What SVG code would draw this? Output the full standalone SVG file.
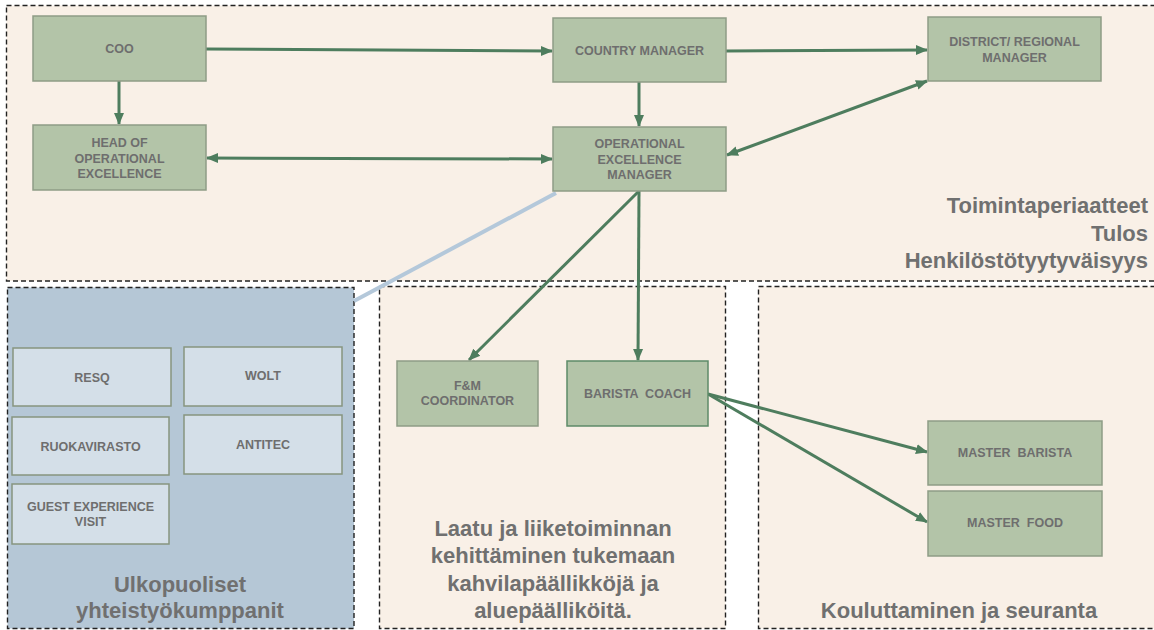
<svg xmlns="http://www.w3.org/2000/svg" width="1154" height="630" viewBox="0 0 1154 630">
<style>
.zone{stroke:#222;stroke-width:1.4;stroke-dasharray:5 3}
.beige{fill:#F9F0E7}
.blue{fill:#B5C7D6}
.g{fill:#B3C4A8;stroke:#8E9C86;stroke-width:1.5}
.gb{fill:#B3C4A8;stroke:#5E8A68;stroke-width:1.5}
.p{fill:#D4DFE8;stroke:#87957F;stroke-width:1.5}
.t{font-family:"Liberation Sans",Arial,sans-serif;font-weight:bold;font-size:12.5px;fill:#6E6E6E;text-anchor:middle}
.big{font-family:"Liberation Sans",Arial,sans-serif;font-weight:bold;font-size:22px;fill:#707070}
.c{stroke:#4E7D5E;stroke-width:3;fill:none}
</style>
<defs>
<marker id="ah" markerUnits="userSpaceOnUse" markerWidth="12" markerHeight="12" refX="11" refY="6" orient="auto-start-reverse">
<path d="M0,1 L12,6 L0,11 Z" fill="#4E7D5E"/>
</marker>
</defs>
<g id="zones">
<rect class="zone beige" x="6.5" y="5.5" width="1160" height="275.5"/>
<rect class="zone blue" x="7.5" y="287.5" width="346.5" height="341"/>
<rect class="zone beige" x="379.5" y="286.5" width="346" height="342"/>
<rect class="zone beige" x="758.5" y="286.5" width="410" height="342"/>
</g>
<g id="zone-labels">
<text class="big" text-anchor="end" x="1148" y="213">Toimintaperiaatteet</text>
<text class="big" text-anchor="end" x="1148" y="241">Tulos</text>
<text class="big" text-anchor="end" x="1148" y="268">Henkilöstötyytyväisyys</text>
<text class="big" text-anchor="middle" x="180" y="592">Ulkopuoliset</text>
<text class="big" text-anchor="middle" x="180" y="618">yhteistyökumppanit</text>
<text class="big" text-anchor="middle" x="553" y="536">Laatu ja liiketoiminnan</text>
<text class="big" text-anchor="middle" x="553" y="563">kehittäminen tukemaan</text>
<text class="big" text-anchor="middle" x="553" y="591">kahvilapäällikköjä ja</text>
<text class="big" text-anchor="middle" x="553" y="618">aluepäälliköitä.</text>
<text class="big" text-anchor="middle" x="959" y="618">Kouluttaminen ja seuranta</text>
</g>
<g id="connectors">
<line x1="556" y1="193" x2="354" y2="301" stroke="#B4C8DA" stroke-width="4"/>
<line class="c" x1="206" y1="49" x2="552" y2="51" marker-end="url(#ah)"/>
<line class="c" x1="119" y1="81" x2="119" y2="124" marker-end="url(#ah)"/>
<line class="c" x1="207" y1="158" x2="552" y2="159" marker-start="url(#ah)" marker-end="url(#ah)"/>
<line class="c" x1="726" y1="51" x2="927" y2="50" marker-end="url(#ah)"/>
<line class="c" x1="639" y1="82" x2="639" y2="126" marker-end="url(#ah)"/>
<line class="c" x1="727" y1="155" x2="927" y2="81" marker-start="url(#ah)" marker-end="url(#ah)"/>
<line class="c" x1="639" y1="191" x2="469" y2="360" marker-end="url(#ah)"/>
<line class="c" x1="639" y1="191" x2="638" y2="360" marker-end="url(#ah)"/>
<line class="c" x1="708" y1="394" x2="927" y2="452" marker-end="url(#ah)"/>
<line class="c" x1="708" y1="394" x2="927" y2="522" marker-end="url(#ah)"/>
</g>
<g id="coo"><rect class="g" x="33" y="16" width="173" height="65"/><text class="t" x="119.5" y="53">COO</text></g>
<g id="head-oe"><rect class="g" x="33" y="125" width="173" height="65"/><text class="t" x="119.5" y="147">HEAD OF</text><text class="t" x="119.5" y="162.5">OPERATIONAL</text><text class="t" x="119.5" y="178">EXCELLENCE</text></g>
<g id="country-manager"><rect class="g" x="553" y="18" width="173" height="64"/><text class="t" x="639.5" y="55">COUNTRY MANAGER</text></g>
<g id="oe-manager"><rect class="g" x="553" y="127" width="173" height="64"/><text class="t" x="639.5" y="148">OPERATIONAL</text><text class="t" x="639.5" y="163.5">EXCELLENCE</text><text class="t" x="639.5" y="179">MANAGER</text></g>
<g id="district-manager"><rect class="g" x="928" y="17" width="173" height="64"/><text class="t" x="1014.5" y="46">DISTRICT/ REGIONAL</text><text class="t" x="1014.5" y="62">MANAGER</text></g>
<g id="resq"><rect class="p" x="13" y="348" width="158" height="58"/><text class="t" x="92" y="382">RESQ</text></g>
<g id="wolt"><rect class="p" x="184" y="347" width="158" height="59"/><text class="t" x="263" y="380">WOLT</text></g>
<g id="ruokavirasto"><rect class="p" x="12" y="417" width="157" height="58"/><text class="t" x="90.5" y="451">RUOKAVIRASTO</text></g>
<g id="antitec"><rect class="p" x="184" y="415" width="158" height="59"/><text class="t" x="263" y="449">ANTITEC</text></g>
<g id="guest-experience"><rect class="p" x="12" y="484" width="157" height="60"/><text class="t" x="90.5" y="511">GUEST EXPERIENCE</text><text class="t" x="90.5" y="526">VISIT</text></g>
<g id="fm-coordinator"><rect class="g" x="397" y="361" width="141" height="65"/><text class="t" x="467.5" y="390">F&amp;M</text><text class="t" x="467.5" y="405">COORDINATOR</text></g>
<g id="barista-coach"><rect class="gb" x="567" y="361" width="141" height="65"/><text class="t" x="637.5" y="398" xml:space="preserve">BARISTA  COACH</text></g>
<g id="master-barista"><rect class="g" x="928" y="421" width="174" height="64"/><text class="t" x="1015" y="457" xml:space="preserve">MASTER  BARISTA</text></g>
<g id="master-food"><rect class="g" x="928" y="491" width="174" height="65"/><text class="t" x="1015" y="527" xml:space="preserve">MASTER  FOOD</text></g>
</svg>
